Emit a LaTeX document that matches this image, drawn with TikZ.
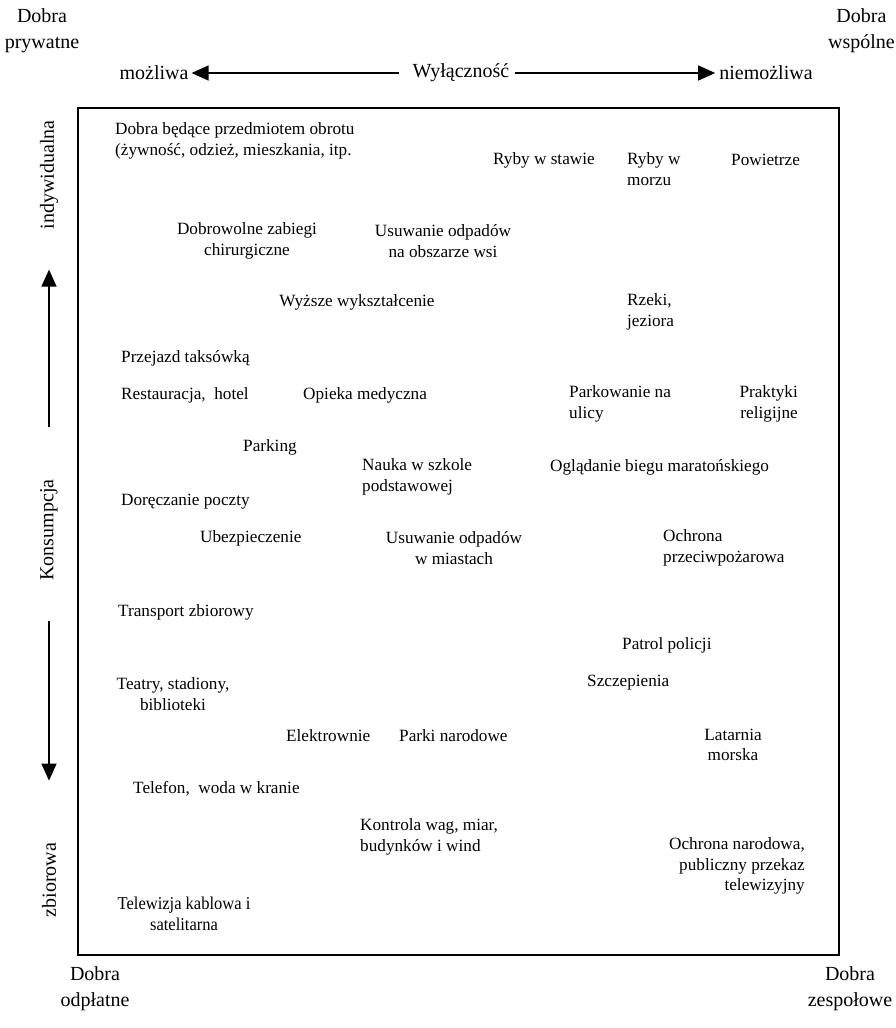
\documentclass[tikz,border=0pt]{standalone}
\usepackage{fontspec}
\setmainfont{Liberation Serif}
\usetikzlibrary{arrows.meta}

\begin{document}
\begin{tikzpicture}[x=1pt,y=-1pt,
  every node/.style={inner sep=0pt},
  item/.style={font=\fontsize{17.2}{20.5}\selectfont, align=left, anchor=west},
  itemc/.style={font=\fontsize{17.2}{20.5}\selectfont, align=center},
  itemr/.style={font=\fontsize{17.2}{20.5}\selectfont, align=right, anchor=east},
  head/.style={font=\fontsize{20}{26}\selectfont, align=center},
  side/.style={font=\fontsize{20}{24}\selectfont, rotate=90},
  axis/.style={line width=1.6pt, -{Triangle[length=17pt,width=15pt]}},
  frame/.style={line width=1.4pt}
]
\useasboundingbox (0,0) rectangle (896,1028);

% corner labels
\node[head] (priv) at (42,31) {Dobra\\prywatne};
\node[head, anchor=east] (comm) at (895,31) {Dobra\\wspólne};
\node[head] (paid) at (95,989) {Dobra\\odpłatne};
\node[head] (club) at (850,989) {Dobra\\zespołowe};

% exclusivity axis
\node[head] (excl) at (461,73) {Wyłączność};
\node[head] (poss) at (154,73) {możliwa};
\node[head] (imposs) at (766,73) {niemożliwa};
\draw[axis] ([xshift=-14pt]excl.west) -- ([xshift=3pt]poss.east);
\draw[axis] ([xshift=6pt]excl.east) -- ([xshift=-4pt]imposs.west);

% consumption axis
\node[side] (indiv) at (49,175) {indywidualna};
\node[side] (cons) at (49,530) {Konsumpcja};
\node[side] (coll) at (49,880) {zbiorowa};
\draw[axis, shorten <=52pt, shorten >=40pt] (cons.east) -- (indiv.west);
\draw[axis, shorten <=40pt, shorten >=62pt] (cons.west) -- (coll.east);

% frame
\draw[frame] (78,108) rectangle (839,955);

% goods
\node[item] (trade) at (115,141) {Dobra będące przedmiotem obrotu\\(żywność, odzież, mieszkania, itp.};
\node[item] (pond) at (493,160) {Ryby w stawie};
\node[item] (sea) at (627,169) {Ryby w\\morzu};
\node[item] (air) at (731,160) {Powietrze};
\node[itemc] (surg) at (247,241) {Dobrowolne zabiegi\\chirurgiczne};
\node[itemc] (rural) at (443,241) {Usuwanie odpadów\\na obszarze wsi};
\node[itemc] (higher) at (357,302) {Wyższe wykształcenie};
\node[item] (rivers) at (627,312) {Rzeki,\\jeziora};
\node[item] (taxi) at (121,358) {Przejazd taksówką};
\node[item] (rest) at (121,395) {Restauracja,\ \ hotel};
\node[item] (med) at (303,395) {Opieka medyczna};
\node[item] (street) at (569,404) {Parkowanie na\\ulicy};
\node[itemr] (relig) at (798,404) {Praktyki\\religijne};
\node[item] (parking) at (243,447) {Parking};
\node[item] (school) at (362,477) {Nauka w szkole\\podstawowej};
\node[item] (marathon) at (550,467) {Oglądanie biegu maratońskiego};
\node[item] (mail) at (121,502) {Doręczanie poczty};
\node[item] (insur) at (200,538) {Ubezpieczenie};
\node[itemc] (urban) at (454,548) {Usuwanie odpadów\\w miastach};
\node[item] (fire) at (663,548) {Ochrona\\przeciwpożarowa};
\node[item] (transit) at (118,612) {Transport zbiorowy};
\node[item] (police) at (622,645) {Patrol policji};
\node[itemc] (theatre) at (173,694) {Teatry, stadiony,\\biblioteki};
\node[item] (vacc) at (587,683) {Szczepienia};
\node[item] (power) at (286,736) {Elektrownie};
\node[item] (parks) at (399,736) {Parki narodowe};
\node[itemc] (light) at (733,745) {Latarnia\\morska};
\node[item] (phone) at (133,789) {Telefon,\ \ woda w kranie};
\node[item] (weights) at (360,837) {Kontrola wag, miar,\\budynków i wind};
\node[itemr] (defence) at (805,866) {Ochrona narodowa,\\publiczny przekaz\\telewizyjny};
\node[itemc] (cable) at (184,914) {\scalebox{0.96}[1.05]{Telewizja kablowa i}\\\scalebox{0.96}[1.05]{satelitarna}};
\end{tikzpicture}
\end{document}
